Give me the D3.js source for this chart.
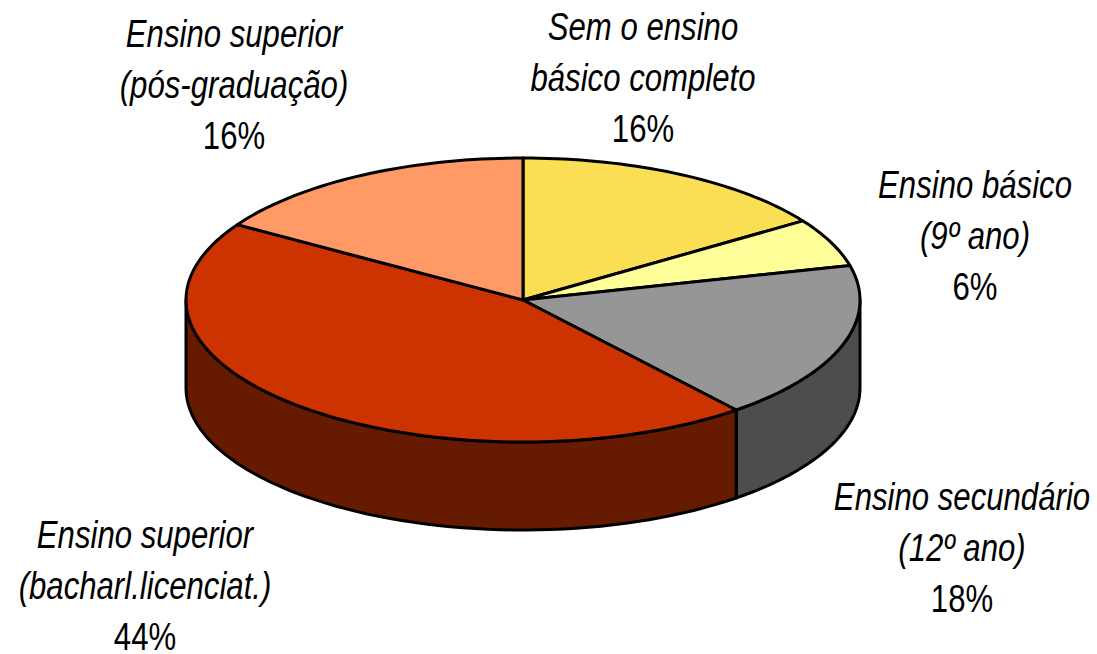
<!DOCTYPE html>
<html>
<head>
<meta charset="utf-8">
<script src="https://cdn.jsdelivr.net/npm/d3@7/dist/d3.min.js"></script>
<style>
  html, body { margin: 0; padding: 0; background: #fff; }
  text { font-family: "Liberation Sans", Arial, sans-serif; fill: #000; }
</style>
</head>
<body>
<svg id="chart" width="1097" height="654"></svg>
<script>
var names = ["Sem o ensino|básico completo", "Ensino básico|(9º ano)", "Ensino secundário|(12º ano)",
             "Ensino superior|(bacharl.licenciat.)", "Ensino superior|(pós-graduação)"];
var shares = [15.6, 5.5, 18.0, 44.8, 16.1];   // slice sizes
var labels = ["16%", "6%", "18%", "44%", "16%"];
var topColors = ["#fadf55", "#ffff99", "#969696", "#cc3300", "#ff9966"];
var sideColors = ["#7d6f2a", "#80804d", "#4d4d4d", "#661a00", "#804d33"];

var cx = 523, cy = 300, rx = 337, ry = 142, depth = 88;
// label centre and first baseline, in the same order as names
var labelX = [643, 975, 962, 145, 234];
var labelY = [40, 198, 510, 548, 47];
var lineGap = 51;

var svg = d3.select("#chart");
var pie = d3.pie().sort(null).value(function(d){ return d; });
var slices = pie(shares);

// pie angle -> position on the tilted ellipse
var ptX = d3.scaleLinear().domain([-1, 1]).range([cx - rx, cx + rx]);
var ptY = d3.scaleLinear().domain([-1, 1]).range([cy - ry, cy + ry]);
function edge(a, dy){ return [ptX(Math.sin(a)), ptY(-Math.cos(a)) + dy]; }

var line = d3.line();

// side wall only shows on the front half
function wall(d){
  var a0 = Math.max(d.startAngle, Math.PI / 2), a1 = Math.min(d.endAngle, Math.PI * 1.5);
  if (a1 <= a0) return null;
  var angles = d3.range(0, 61).map(function(i){ return a0 + (a1 - a0) * i / 60; });
  var top = angles.map(function(a){ return edge(a, 0); });
  var bottom = angles.slice().reverse().map(function(a){ return edge(a, depth); });
  return line(top.concat(bottom)) + "Z";
}

function sector(d){
  var n = Math.ceil((d.endAngle - d.startAngle) * 40);
  var pts = d3.range(0, n + 1).map(function(i){ return edge(d.startAngle + (d.endAngle - d.startAngle) * i / n, 0); });
  return line([[cx, cy]].concat(pts)) + "Z";
}

svg.append("g").selectAll("path")
    .data(slices.filter(function(d){ return wall(d); }))
  .enter().append("path")
    .attr("d", wall)
    .attr("fill", function(d){ return sideColors[d.index]; })
    .attr("stroke", "#000")
    .attr("stroke-width", 3)
    .attr("stroke-linejoin", "round");

svg.append("g").selectAll("path")
    .data(slices)
  .enter().append("path")
    .attr("d", sector)
    .attr("fill", function(d){ return topColors[d.index]; })
    .attr("stroke", "#000")
    .attr("stroke-width", 3)
    .attr("stroke-linejoin", "round");

var lab = svg.append("g").selectAll("g")
    .data(names)
  .enter().append("g")
    .attr("transform", function(d, i){ return "translate(" + labelX[i] + "," + labelY[i] + ") scale(0.82,1)"; })
    .attr("text-anchor", "middle")
    .style("font-size", "38px");

lab.each(function(d, i){
  var g = d3.select(this);
  d.split("|").forEach(function(t, j){
    g.append("text").attr("y", j * lineGap).style("font-style", "italic").text(t);
  });
  g.append("text").attr("y", 2 * lineGap).text(labels[i]);
});
</script>
</body>
</html>
